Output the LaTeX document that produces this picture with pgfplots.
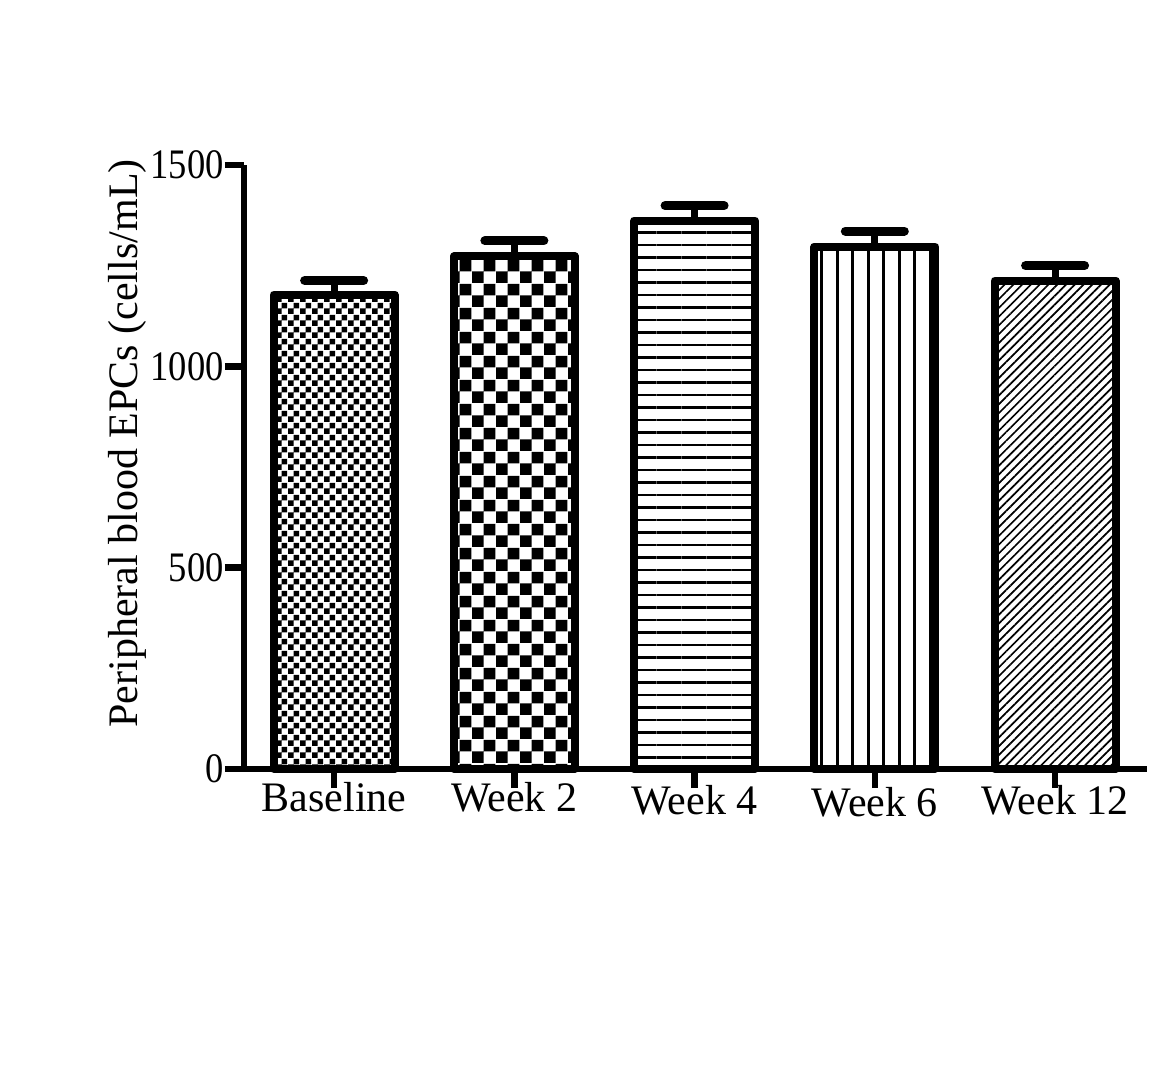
\documentclass[border=0pt]{standalone}
\usepackage{pgfplots}
\pgfplotsset{compat=1.18}
\usepackage{fontspec}
\setmainfont{Liberation Serif}
\usetikzlibrary{patterns,patterns.meta}
\pgfdeclarepatternformonly{checkS}{\pgfpointorigin}{\pgfpoint{6bp}{6bp}}{\pgfpoint{6bp}{6bp}}{%
 \pgfpathrectangle{\pgfpointorigin}{\pgfpoint{3bp}{3bp}}%
 \pgfpathrectangle{\pgfpoint{3bp}{3bp}}{\pgfpoint{3bp}{3bp}}%
 \pgfusepath{fill}}
\pgfdeclarepatternformonly{checkL}{\pgfpointorigin}{\pgfpoint{11.8bp}{11.8bp}}{\pgfpoint{11.8bp}{11.8bp}}{%
 \pgfpathrectangle{\pgfpointorigin}{\pgfpoint{5.9bp}{5.9bp}}%
 \pgfpathrectangle{\pgfpoint{5.9bp}{5.9bp}}{\pgfpoint{5.9bp}{5.9bp}}%
 \pgfusepath{fill}}
\newcommand{\lblfont}{\fontsize{21bp}{25bp}\selectfont}
\begin{document}
\begin{tikzpicture}
\useasboundingbox (-122bp,-150.5bp) rectangle (465.5bp,384.5bp);
\begin{axis}[
 at={(0,0)}, anchor=south west,
 scale only axis, width=451.5bp, height=302bp,
 xmin=-0.5, xmax=4.51, ymin=0, ymax=1500,
 axis x line*=bottom, axis y line*=left,
 axis line style={-, line width=3.2bp, black},
 tick align=outside, major tick length=9.5bp,
 tick style={line width=3.2bp, black},
 xtick={0,1,2,3,4},
 xticklabels={Baseline, Week 2, \raisebox{-1.6bp}{Week 4}, \raisebox{-2.5bp}{Week 6}, \raisebox{-1.6bp}{Week 12}},
 ytick={0,500,1000,1500},
 yticklabel={\scalebox{0.87}[1]{\pgfmathprintnumber{\tick}}},
 /pgf/number format/assume math mode=true,
 /pgf/number format/1000 sep={},
 tick label style={font=\lblfont},
 xticklabel style={anchor=base, inner sep=0pt, yshift=-11.5bp},
 yticklabel style={anchor=east, inner sep=0pt, xshift=-0.5bp},
 ylabel={Peripheral blood EPCs (cells/mL)},
 every axis y label/.style={at={(axis description cs:-0.129,0.539)}, rotate=90, anchor=center, font=\lblfont},
 ybar, bar width=0.671, bar shift=0pt,
 clip=false,
 every axis plot/.append style={draw=black, line width=4bp, line join=round, pattern color=black},
 error bars/y dir=plus, error bars/y explicit,
 error bars/error mark=|,
 error bars/error bar style={line width=3.5bp, black},
 error bars/error mark options={line width=4.5bp, mark size=14.75bp, line cap=round, black},
]
\addplot[pattern=checkS] coordinates {(0,1178) +- (0,35)};
\addplot[pattern=checkL] coordinates {(1,1273) +- (0,39)};
\addplot[pattern={Lines[angle=0,distance=6.25bp,line width=1.2bp]}] coordinates {(2,1362) +- (0,37)};
\addplot[pattern={Lines[angle=90,distance=7.75bp,line width=1.5bp]}] coordinates {(3,1297) +- (0,39)};
\addplot[pattern={Lines[angle=45,distance=3.1bp,line width=0.85bp]}] coordinates {(4,1213) +- (0,37)};
\end{axis}
\end{tikzpicture}
\end{document}
